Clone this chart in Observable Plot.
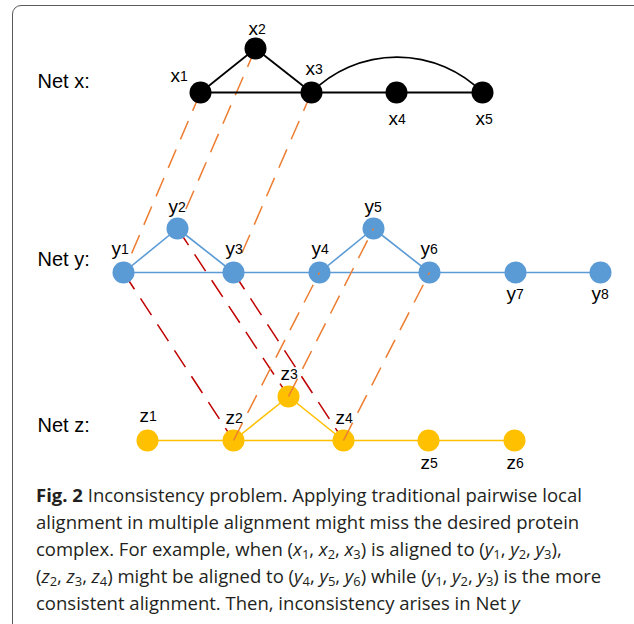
<!DOCTYPE html>
<html><head><meta charset="utf-8">
<script src="https://cdn.jsdelivr.net/npm/d3@7"></script>
<script src="https://cdn.jsdelivr.net/npm/@observablehq/plot@0.6"></script>
<style>
html,body{margin:0;padding:0;background:#fff;}
body{width:634px;height:624px;overflow:hidden;position:relative;}
#frame{position:absolute;left:12px;top:5px;width:680px;height:680px;border:1.5px solid #5a5a5a;border-radius:9px;box-sizing:border-box;}
#chart{position:absolute;left:0;top:0;}
#caption{position:absolute;left:36px;top:481px;font-family:"Open Sans",sans-serif;font-size:18.5px;line-height:27px;color:#231f20;white-space:nowrap;}
#caption b{font-weight:700;}
#caption sub{font-size:0.7em;vertical-align:baseline;position:relative;top:0.25em;line-height:0;}
#caption .sp{display:inline-block;width:0.25em;}
</style></head><body>
<div id="frame"></div><div id="chart"></div><div id="caption"></div>
<script>
// Network label text and positions (layout units)
const netLabels = ["Net x:", "Net y:", "Net z:"];
const netLabelX = [37, 37, 37];
const netLabelY = [81, 259, 425];

// Nodes
const nodeNames = ["x1","x2","x3","x4","x5","y1","y2","y3","y4","y5","y6","y7","y8","z1","z2","z3","z4","z5","z6"];
const nodeNet   = ["x","x","x","x","x","y","y","y","y","y","y","y","y","z","z","z","z","z","z"];
const nodeX     = [200,255,311,396,482, 123,177,233,319,373,429,515,600, 147,233,288,343,428,514];
const nodeY     = [92,48,92,92,92, 272,228,272,272,228,272,272,272, 440,440,396,440,440,440];
const labelX    = [178,256,313,396,483, 119,176,233,319,372,428,514,599, 147,233,288,343,428,514];
const labelY    = [75,28,68,118,118, 248,206,248,248,206,248,293,293, 415,417,373,417,462,462];

// Edges within networks
const netEdges = [["x1","x2"],["x2","x3"],["x1","x3"],["x3","x4"],["x4","x5"],
  ["y1","y2"],["y2","y3"],["y1","y3"],["y3","y4"],["y4","y5"],["y5","y6"],["y4","y6"],["y6","y7"],["y7","y8"],
  ["z1","z2"],["z2","z3"],["z3","z4"],["z2","z4"],["z4","z5"],["z5","z6"]];
const arcEdges = [["x3","x5"]];
// Alignments
const alignXY = [["x1","y1"],["x2","y2"],["x3","y3"]];
const alignYZ = [["y1","z2"],["y2","z3"],["y3","z4"]];
const alignZY = [["z2","y4"],["z3","y5"],["z4","y6"]];

const netColor = {x:"#000000", y:"#5B9BD5", z:"#FFC000"};
const orange = "#ED7D31", red = "#C00000";

const nodes = nodeNames.map((n,i)=>({name:n, net:nodeNet[i], x:nodeX[i], y:nodeY[i], lx:labelX[i], ly:labelY[i], letter:n[0], digit:n.slice(1)}));
const byName = Object.fromEntries(nodes.map(d=>[d.name,d]));
const toLinks = (pairs) => pairs.map(([a,b])=>({x1:byName[a].x,y1:byName[a].y,x2:byName[b].x,y2:byName[b].y,net:byName[a].net}));
const edges = toLinks(netEdges), arcs = toLinks(arcEdges);
const lxy = toLinks(alignXY), lyz = toLinks(alignYZ), lzy = toLinks(alignZY);
const netRows = netLabels.map((t,i)=>({t, x:netLabelX[i], y:netLabelY[i]}));

const W = 634, H = 476;
const font = "Liberation Sans, Arial, sans-serif";
const chart = Plot.plot({
  width: W, height: H, margin: 0,
  x: {domain:[0,W], range:[0,W], axis:null},
  y: {domain:[0,H], range:[0,H], axis:null},
  style: {background:"transparent", overflow:"visible"},
  marks: [
    Plot.link(lxy, {x1:"x1",y1:"y1",x2:"x2",y2:"y2", stroke:orange, strokeWidth:1.5, strokeDasharray:"20,11"}),
    Plot.link(lyz, {x1:"x1",y1:"y1",x2:"x2",y2:"y2", stroke:red, strokeWidth:1.5, strokeDasharray:"20,11"}),
    Plot.link(edges, {x1:"x1",y1:"y1",x2:"x2",y2:"y2", stroke:d=>netColor[d.net], strokeWidth:d=>d.net==="x"?1.8:1.6}),
    Plot.arrow(arcs, {x1:"x1",y1:"y1",x2:"x2",y2:"y2", bend:45, headLength:0, insetStart:0, insetEnd:0, stroke:"#000", strokeWidth:1.8}),
    Plot.dot(nodes, {x:"x", y:"y", r:11, fill:d=>netColor[d.net], stroke:"none"}),
    Plot.link(lzy, {x1:"x1",y1:"y1",x2:"x2",y2:"y2", stroke:orange, strokeWidth:1.5, strokeDasharray:"20,11"}),
    Plot.text(nodes, {x:"lx", y:"ly", text:"letter", textAnchor:"end", dx:1.5, fontSize:19, fill:"#000", fontFamily:font}),
    Plot.text(nodes, {x:"lx", y:"ly", text:"digit", textAnchor:"start", dx:1.5, dy:1.5, fontSize:14, fill:"#000", fontFamily:font}),
    Plot.text(netRows, {x:"x", y:"y", text:"t", textAnchor:"start", fontSize:20, fill:"#000", fontFamily:font})
  ]
});
chart.style.color = "#000";
document.getElementById("chart").appendChild(chart);

const m = (l,d) => `<i>${l}</i><sub>${d}</sub>`;
const tri = (l,a) => "(" + a.map(d=>m(l,d)).join(",<span class=\"sp\"></span>") + ")";
const captionLines = [
  `<b>Fig. 2</b> Inconsistency problem. Applying traditional pairwise local`,
  `alignment in multiple alignment might miss the desired protein`,
  `complex. For example, when ${tri("x",[1,2,3])} is aligned to ${tri("y",[1,2,3])},`,
  `${tri("z",[2,3,4])} might be aligned to ${tri("y",[4,5,6])} while ${tri("y",[1,2,3])} is the more`,
  `consistent alignment. Then, inconsistency arises in Net <i>y</i>`
];
document.getElementById("caption").innerHTML = captionLines.join("<br>");
</script>
</body></html>
